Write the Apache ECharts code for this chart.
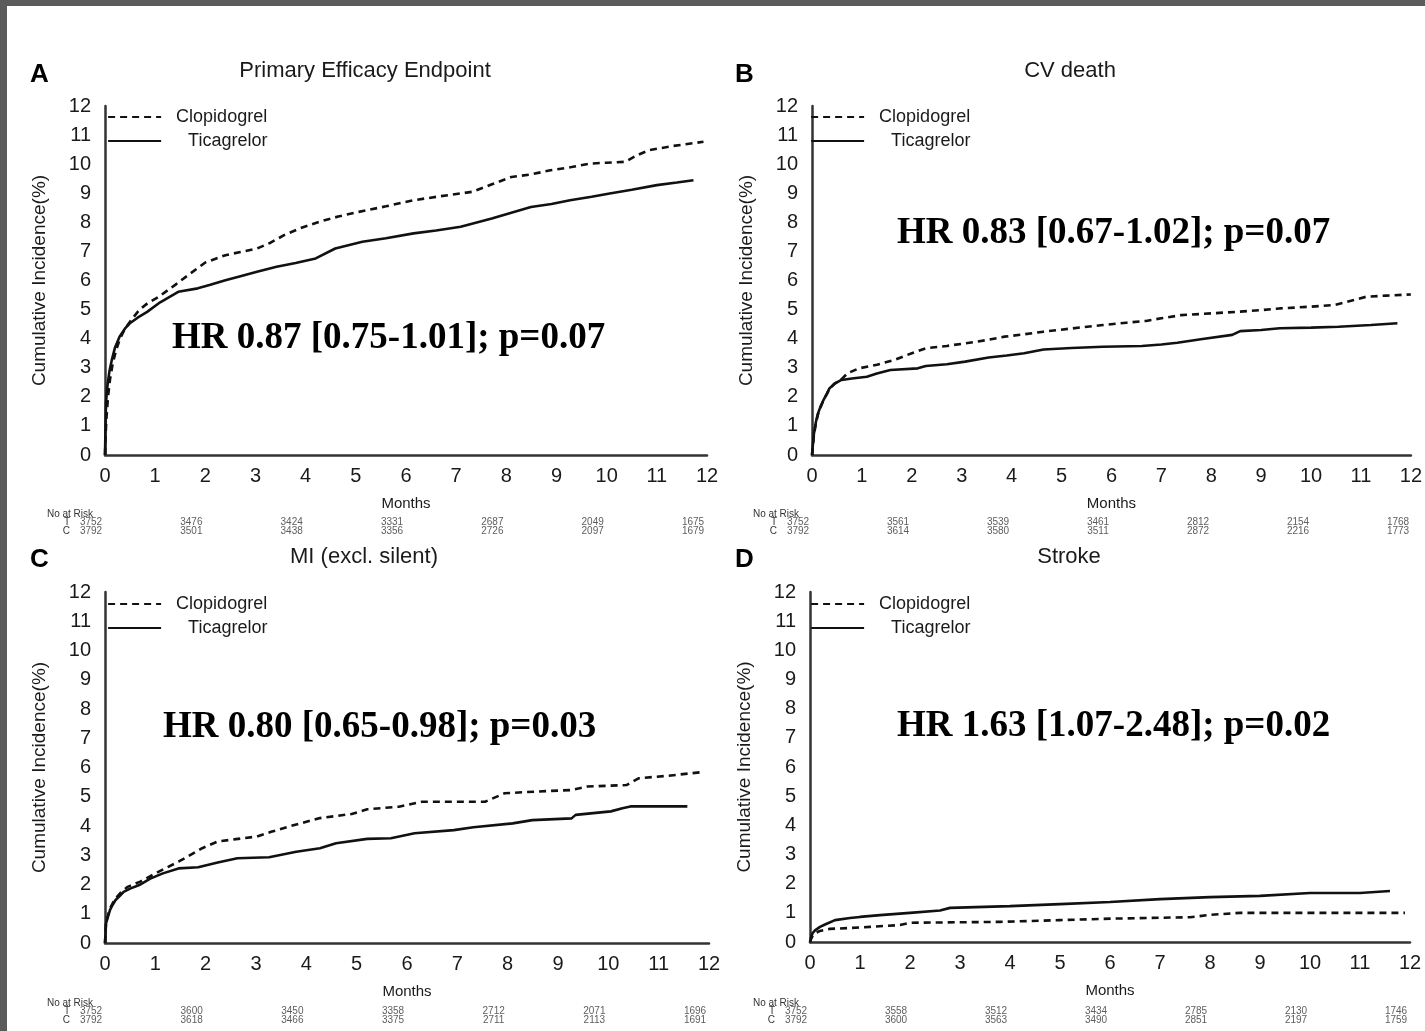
<!DOCTYPE html>
<html>
<head>
<meta charset="utf-8">
<script src="https://cdn.jsdelivr.net/npm/echarts@6/dist/echarts.min.js"></script>
<style>
html,body{margin:0;padding:0;background:#fff;}
#chart{width:1425px;height:1031px;}
</style>
</head>
<body>
<div id="chart"></div>
<script>
// ---------- data ----------
const monthTicks = [0,1,2,3,4,5,6,7,8,9,10,11,12];
const riskMonths = [0,2,4,6,8,10,12];

// Panel A: Primary Efficacy Endpoint
const aClopidogrel = [[0,0],[0.01,0.6],[0.03,1.3],[0.06,2.0],[0.1,2.6],[0.15,3.1],[0.22,3.6],[0.3,4.0],[0.4,4.35],[0.55,4.7],[0.68,4.98],[0.85,5.22],[1.07,5.44],[1.4,5.85],[1.7,6.24],[2.0,6.62],[2.4,6.87],[2.7,6.98],[3.03,7.1],[3.3,7.3],[3.57,7.56],[3.9,7.8],[4.27,8.02],[4.65,8.2],[5.06,8.36],[5.6,8.55],[6.15,8.76],[6.7,8.9],[7.32,9.05],[7.7,9.3],[8.1,9.56],[8.5,9.65],[8.88,9.79],[9.3,9.9],[9.67,10.02],[10.0,10.05],[10.37,10.08],[10.6,10.3],[10.84,10.48],[11.3,10.62],[11.93,10.77]];
const aTicagrelor = [[0,0],[0.01,1.0],[0.02,1.8],[0.05,2.4],[0.09,2.9],[0.135,3.26],[0.2,3.7],[0.29,4.07],[0.4,4.35],[0.49,4.52],[0.65,4.72],[0.84,4.92],[1.1,5.25],[1.46,5.61],[1.85,5.73],[2.1,5.85],[2.4,6.01],[2.7,6.15],[3.03,6.3],[3.42,6.47],[3.8,6.6],[4.2,6.76],[4.59,7.1],[5.13,7.33],[5.6,7.45],[6.15,7.62],[6.6,7.72],[7.09,7.85],[7.71,8.13],[8.1,8.33],[8.49,8.53],[8.9,8.63],[9.27,8.76],[9.7,8.88],[10.06,8.99],[10.5,9.12],[11.0,9.28],[11.4,9.37],[11.73,9.45]];
const aRiskT = [3752,3476,3424,3331,2687,2049,1675];
const aRiskC = [3792,3501,3438,3356,2726,2097,1679];

// Panel B: CV death
const bClopidogrel = [[0,0],[0.02,0.35],[0.04,0.7],[0.08,1.1],[0.12,1.4],[0.18,1.68],[0.23,1.88],[0.3,2.1],[0.35,2.27],[0.45,2.45],[0.6,2.62],[0.71,2.81],[0.94,2.98],[1.3,3.1],[1.65,3.27],[2.0,3.5],[2.28,3.67],[2.7,3.75],[3.07,3.84],[3.5,3.95],[3.86,4.07],[4.25,4.15],[4.64,4.24],[5.2,4.35],[5.83,4.47],[6.3,4.55],[6.69,4.61],[7.0,4.7],[7.4,4.81],[8.0,4.87],[8.58,4.93],[9.0,4.98],[9.37,5.04],[10.0,5.1],[10.47,5.16],[10.8,5.3],[11.1,5.44],[11.5,5.48],[12.0,5.52]];
const bTicagrelor = [[0,0],[0.02,0.4],[0.04,0.75],[0.08,1.15],[0.12,1.43],[0.18,1.7],[0.23,1.89],[0.3,2.12],[0.35,2.29],[0.45,2.45],[0.59,2.58],[0.8,2.63],[1.1,2.69],[1.3,2.8],[1.57,2.92],[2.12,2.98],[2.28,3.06],[2.7,3.12],[3.07,3.21],[3.54,3.35],[3.9,3.42],[4.25,3.5],[4.64,3.63],[5.2,3.68],[5.83,3.72],[6.61,3.75],[7.0,3.8],[7.32,3.86],[7.79,3.98],[8.42,4.13],[8.58,4.26],[9.0,4.3],[9.37,4.36],[10.0,4.38],[10.55,4.41],[11.2,4.47],[11.73,4.53]];
const bRiskT = [3752,3561,3539,3461,2812,2154,1768];
const bRiskC = [3792,3614,3580,3511,2872,2216,1773];

// Panel C: MI (excl. silent)
const cClopidogrel = [[0,0],[0.01,0.35],[0.02,0.7],[0.06,0.95],[0.1,1.18],[0.15,1.35],[0.21,1.52],[0.3,1.7],[0.45,1.92],[0.7,2.1],[1.07,2.44],[1.46,2.78],[1.93,3.24],[2.24,3.47],[2.6,3.55],[3.02,3.64],[3.3,3.8],[3.65,3.98],[4.27,4.27],[4.9,4.41],[5.21,4.57],[5.84,4.66],[6.3,4.83],[7.55,4.83],[7.94,5.12],[8.6,5.18],[9.27,5.23],[9.58,5.35],[10.36,5.4],[10.6,5.63],[11.2,5.72],[11.85,5.84]];
const cTicagrelor = [[0,0],[0.01,0.3],[0.02,0.67],[0.06,0.9],[0.1,1.13],[0.15,1.3],[0.21,1.47],[0.3,1.62],[0.37,1.75],[0.5,1.86],[0.68,1.98],[0.9,2.2],[1.15,2.38],[1.46,2.55],[1.85,2.59],[2.24,2.75],[2.63,2.9],[3.26,2.93],[3.8,3.12],[4.27,3.24],[4.59,3.41],[5.21,3.56],[5.68,3.58],[6.15,3.75],[6.93,3.86],[7.32,3.96],[8.1,4.09],[8.49,4.2],[9.27,4.26],[9.35,4.38],[10.05,4.5],[10.28,4.61],[10.44,4.67],[11.57,4.67]];
const cRiskT = [3752,3600,3450,3358,2712,2071,1696];
const cRiskC = [3792,3618,3466,3375,2711,2113,1691];

// Panel D: Stroke
const dClopidogrel = [[0,0],[0.02,0.1],[0.05,0.2],[0.1,0.3],[0.2,0.38],[0.4,0.45],[0.8,0.48],[1.2,0.52],[1.8,0.58],[2.0,0.66],[3.8,0.69],[5.0,0.75],[6.0,0.8],[7.6,0.85],[8.0,0.93],[8.6,1.0],[11.9,1.0]];
const dTicagrelor = [[0,0],[0.02,0.15],[0.05,0.3],[0.1,0.4],[0.2,0.52],[0.3,0.6],[0.5,0.75],[0.8,0.82],[1.0,0.86],[1.4,0.92],[2.0,1.0],[2.6,1.08],[2.8,1.17],[4.0,1.23],[5.0,1.3],[6.0,1.37],[7.0,1.47],[8.0,1.54],[9.0,1.58],[10.0,1.68],[11.0,1.68],[11.6,1.75]];
const dRiskT = [3752,3558,3512,3434,2785,2130,1746];
const dRiskC = [3792,3600,3563,3490,2851,2197,1759];

const panelTitles = ['Primary Efficacy Endpoint','CV death','MI (excl. silent)','Stroke'];
const panelLetters = ['A','B','C','D'];
const hrTexts = ['HR 0.87 [0.75-1.01]; p=0.07','HR 0.83 [0.67-1.02]; p=0.07','HR 0.80 [0.65-0.98]; p=0.03','HR 1.63 [1.07-2.48]; p=0.02'];
const yAxisTitle = 'Cumulative Incidence(%)';
const xAxisTitle = 'Months';
const riskHeader = 'No at Risk';
const riskRows = ['T','C'];

// ---------- layout ----------
const SANS = "'Liberation Sans', Arial, Helvetica, sans-serif";
const SERIF = "'Liberation Serif', 'Times New Roman', serif";
const INK = '#1a1a1a';
const layout = [
  {grid:{left:105,top:106,width:602,height:349}, risk:{left:105,top:518,width:602,height:18}, title:[365,71], letter:[30,62], hr:[172,338], legend:[107,107], noRisk:[70,514]},
  {grid:{left:812,top:106,width:600,height:349}, risk:{left:812,top:518,width:600,height:18}, title:[1070,71], letter:[735,62], hr:[897,233], legend:[810,107], noRisk:[776,514]},
  {grid:{left:105,top:592,width:604,height:351}, risk:{left:105,top:1007,width:604,height:18}, title:[364,557], letter:[30,547], hr:[163,727], legend:[107,594], noRisk:[70,1003]},
  {grid:{left:810,top:592,width:600,height:350}, risk:{left:810,top:1007,width:600,height:18}, title:[1069,557], letter:[735,547], hr:[897,726], legend:[810,594], noRisk:[776,1003]}
];
const curves = [[aClopidogrel,aTicagrelor],[bClopidogrel,bTicagrelor],[cClopidogrel,cTicagrelor],[dClopidogrel,dTicagrelor]];
const risks = [[aRiskT,aRiskC],[bRiskT,bRiskC],[cRiskT,cRiskC],[dRiskT,dRiskC]];

const grids=[], xAxes=[], yAxes=[], series=[], legends=[], graphics=[];

layout.forEach((L,i)=>{
  // main plot
  grids.push(Object.assign({containLabel:false}, L.grid));
  const gi = grids.length-1;
  xAxes.push({type:'value', gridIndex:gi, min:0, max:12, interval:1,
    axisLine:{show:true, onZero:false, lineStyle:{color:'#333', width:2.5}},
    axisTick:{show:false}, splitLine:{show:false},
    axisLabel:{fontSize:20, color:INK, fontFamily:SANS, margin:11},
    name:xAxisTitle, nameLocation:'middle', nameGap:41,
    nameTextStyle:{fontSize:15, color:INK, fontFamily:SANS}});
  yAxes.push({type:'value', gridIndex:gi, min:0, max:12, interval:1,
    axisLine:{show:true, onZero:false, lineStyle:{color:'#333', width:2.5}},
    axisTick:{show:false}, splitLine:{show:false},
    axisLabel:{fontSize:20, color:INK, fontFamily:SANS, margin:14},
    name:yAxisTitle, nameLocation:'middle', nameGap:56,
    nameTextStyle:{fontSize:19, color:INK, fontFamily:SANS}});
  series.push({name:'Clopidogrel', type:'line', xAxisIndex:gi, yAxisIndex:gi, data:curves[i][0],
    symbol:'none', showSymbol:false, silent:true, animation:false,
    lineStyle:{color:'#111', width:2.6, type:[7,5]}, itemStyle:{color:'#111'}});
  series.push({name:'Ticagrelor', type:'line', xAxisIndex:gi, yAxisIndex:gi, data:curves[i][1],
    symbol:'none', showSymbol:false, silent:true, animation:false,
    lineStyle:{color:'#111', width:2.6, type:'solid'}, itemStyle:{color:'#111'}});
  legends.push({show:true, orient:'vertical', left:L.legend[0], top:L.legend[1], itemWidth:53, itemHeight:14, itemGap:4,
    selectedMode:false, padding:0,
    itemStyle:{opacity:0, borderWidth:0},
    lineStyle:{width:2.2},
    textStyle:{fontSize:18, color:INK, fontFamily:SANS, lineHeight:20},
    data:[{name:'Clopidogrel', textStyle:{padding:[0,0,0,10]}},{name:'Ticagrelor', textStyle:{padding:[0,0,0,22]}}]});

  // number-at-risk table
  grids.push(Object.assign({containLabel:false}, L.risk));
  const ri = grids.length-1;
  xAxes.push({type:'value', gridIndex:ri, min:0, max:12, interval:2, show:false});
  yAxes.push({type:'category', gridIndex:ri, data:riskRows, inverse:true,
    axisLine:{show:false}, axisTick:{show:false}, splitLine:{show:false},
    axisLabel:{interval:0, fontSize:10, color:'#333', fontFamily:SANS, margin:35}});
  const pts=[];
  riskRows.forEach((r,k)=>{ riskMonths.forEach((m,j)=>{ pts.push([m, r, risks[i][k][j]]); }); });
  series.push({name:'risk'+i, type:'scatter', xAxisIndex:ri, yAxisIndex:ri, data:pts,
    symbolSize:1, itemStyle:{color:'rgba(0,0,0,0)'}, silent:true, animation:false,
    label:{show:true, position:'inside', offset:[-14,0], formatter:p=>String(p.value[2]),
      fontSize:10, color:'#333', fontFamily:SANS}});

  // texts
  graphics.push({type:'text', left:L.letter[0], top:L.letter[1],
    style:{text:panelLetters[i], font:"bold 26px "+SANS, fill:'#000'}});
  graphics.push({type:'text', x:L.title[0], y:L.title[1],
    style:{text:panelTitles[i], font:"22px "+SANS, fill:INK, textAlign:'center', textVerticalAlign:'middle'}});
  graphics.push({type:'text', x:L.hr[0], y:L.hr[1],
    style:{text:hrTexts[i], font:"bold 37px "+SERIF, fill:'#000', textAlign:'left', textVerticalAlign:'middle'}});
  graphics.push({type:'text', x:L.noRisk[0], y:L.noRisk[1],
    style:{text:riskHeader, font:"10px "+SANS, fill:'#333', textAlign:'center', textVerticalAlign:'middle'}});
});

// dark frame
graphics.push({type:'rect', shape:{x:0,y:0,width:1425,height:6}, style:{fill:'#5b5b5b'}, silent:true});
graphics.push({type:'rect', shape:{x:0,y:0,width:7,height:1031}, style:{fill:'#5b5b5b'}, silent:true});

const chart = echarts.init(document.getElementById('chart'), null, {renderer:'canvas'});
chart.setOption({
  backgroundColor:'#fff',
  animation:false,
  grid:grids, xAxis:xAxes, yAxis:yAxes, legend:legends, series:series, graphic:graphics
});
</script>
</body>
</html>
